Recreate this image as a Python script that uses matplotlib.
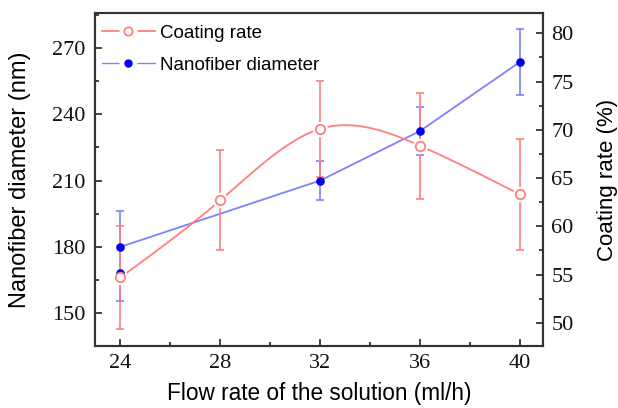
import numpy as np
import matplotlib
matplotlib.use("Agg")
import matplotlib.pyplot as plt
from matplotlib.ticker import MultipleLocator
from matplotlib.lines import Line2D

# ---- data ----
flow = [24, 28, 32, 36, 40]
coating = [54.7, 62.7, 70.1, 68.35, 63.3]
coating_err = [5.3, 5.2, 5.0, 5.5, 5.8]

flow_d = [24, 32, 36, 40]
diameter = [180.0, 210.0, 232.4, 263.6]
diam_err_low = [24.5, 9.0, 11.0, 14.8]
diam_err_high = [16.0, 9.0, 11.0, 14.8]
extra_flow = [24]
extra_diam = [168.0]

xticks = [24, 28, 32, 36, 40]
yticks_left = [150, 180, 210, 240, 270]
yticks_right = [50, 55, 60, 65, 70, 75, 80]

RED = "#FF7F7F"
BLUE_L = "#8080FF"
BLUE = "#0000EE"
SERIF = ["Liberation Serif", "DejaVu Serif"]
SANS = ["Liberation Sans", "DejaVu Sans"]


def natural_spline(x, y, xs):
    x = np.asarray(x, float); y = np.asarray(y, float)
    n = len(x)
    h = np.diff(x)
    A = np.zeros((n, n)); b = np.zeros(n)
    A[0, 0] = 1; A[-1, -1] = 1
    for i in range(1, n - 1):
        A[i, i - 1] = h[i - 1]; A[i, i] = 2 * (h[i - 1] + h[i]); A[i, i + 1] = h[i]
        b[i] = 3 * ((y[i + 1] - y[i]) / h[i] - (y[i] - y[i - 1]) / h[i - 1])
    c = np.linalg.solve(A, b)
    out = np.empty_like(xs)
    for k, xv in enumerate(xs):
        i = min(max(np.searchsorted(x, xv) - 1, 0), n - 2)
        dx = xv - x[i]
        bi = (y[i + 1] - y[i]) / h[i] - h[i] * (2 * c[i] + c[i + 1]) / 3
        di = (c[i + 1] - c[i]) / (3 * h[i])
        out[k] = y[i] + bi * dx + c[i] * dx ** 2 + di * dx ** 3
    return out


fig = plt.figure(figsize=(6.18, 4.08), dpi=100)
ax = fig.add_axes([0.1545, 0.152, 0.724, 0.816])
ax2 = ax.twinx()

# left axis: nanofiber diameter (error bars + line)
ax.errorbar(flow_d, diameter, yerr=[diam_err_low, diam_err_high], fmt="none",
            ecolor=BLUE_L, elinewidth=1.2, capsize=3, capthick=1.2, zorder=2)
ax.plot(flow_d, diameter, color=BLUE_L, lw=1.3, zorder=3)

# right axis: coating rate
ax2.errorbar(flow, coating, yerr=coating_err, fmt="none",
             ecolor=RED, elinewidth=1.2, capsize=3, capthick=1.2, zorder=2)
xs = np.linspace(flow[0], flow[-1], 300)
ax2.plot(xs, natural_spline(flow, coating, xs), color=RED, lw=1.3, zorder=3)
ax2.plot(flow, coating, "o", mfc="white", mec="white", ms=10, zorder=4)
# blue markers drawn in the ax2 layer (left-axis data coords) so they sit above red bars
ax2.plot(flow_d, diameter, "o", color=BLUE, ms=5.2, zorder=4.5, transform=ax.transData)
ax2.plot(extra_flow, extra_diam, "o", color=BLUE, ms=5.2, zorder=4.5, transform=ax.transData)
ax2.plot(flow, coating, "o", mfc="white", mec=RED, mew=1.3, ms=6.8, zorder=5)

ax.set_xlim(23.0, 40.92)
ax.set_ylim(135.2, 285.7)
ax2.set_ylim(47.6, 82.1)
ax.set_xticks(xticks)
ax.set_yticks(yticks_left)
ax2.set_yticks(yticks_right)
ax.xaxis.set_minor_locator(MultipleLocator(2))
ax.yaxis.set_minor_locator(MultipleLocator(15))
ax2.yaxis.set_minor_locator(MultipleLocator(2.5))

for a in (ax, ax2):
    a.tick_params(which="both", direction="in", width=1.2, colors="#222222")
    a.tick_params(which="major", length=5)
    a.tick_params(which="minor", length=3)
    for s in a.spines.values():
        s.set_linewidth(1.5)
        s.set_color("#333333")
    for lab in a.get_xticklabels() + a.get_yticklabels():
        lab.set_family(SERIF)
        lab.set_fontsize(16)
        lab.set_color("#111111")

ax.tick_params(axis="x", pad=6)
ax.tick_params(axis="y", pad=7)
ax2.tick_params(axis="y", pad=6)

ax.set_xlabel("Flow rate of the solution (ml/h)", family=SANS, fontsize=16.3, labelpad=6)
ax.set_ylabel("Nanofiber diameter (nm)", family=SANS, fontsize=17, labelpad=15.5)
ax2.set_ylabel("Coating rate (%)", family=SANS, fontsize=16, labelpad=17)

# legend handles with gaps around the markers
red_line = Line2D([], [], color=RED, lw=1.3)
red_halo = Line2D([], [], ls="none", marker="o", mfc="white", mec="white", ms=12)
red_mark = Line2D([], [], ls="none", marker="o", mfc="white", mec=RED, mew=1.3, ms=6)
blue_line = Line2D([], [], color=BLUE_L, lw=1.0)
blue_halo = Line2D([], [], ls="none", marker="o", mfc="white", mec="white", ms=12)
blue_mark = Line2D([], [], ls="none", marker="o", mfc=BLUE, mec=BLUE, ms=5)
leg = ax2.legend([(red_line, red_halo, red_mark), (blue_line, blue_halo, blue_mark)],
                 ["Coating rate", "Nanofiber diameter"], loc="upper left",
                 bbox_to_anchor=(0.0138, 0.965), frameon=False, borderpad=0,
                 borderaxespad=0, handlelength=2.83, handletextpad=0.27,
                 labelspacing=0.78, prop={"family": SANS, "size": 13.5})

fig.savefig("out.png", dpi=100)
